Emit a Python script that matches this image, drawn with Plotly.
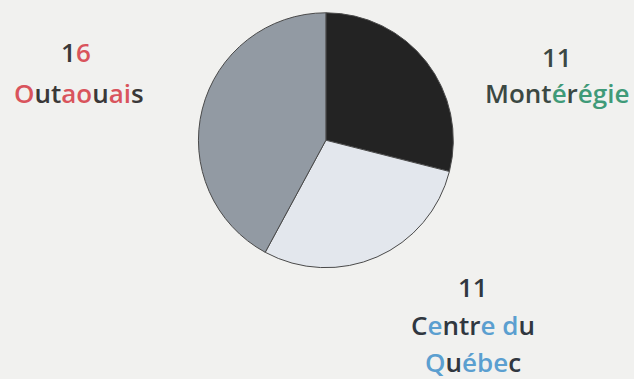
import plotly.graph_objects as go

regions = ["Montérégie", "Centre du Québec", "Outaouais"]
counts = [11, 11, 16]
slice_colors = ["#232323", "#e3e7ed", "#929aa3"]

DARK = "#3a3838"
RED = "#d9545c"
GREEN = "#3f9a78"
GDARK = "#3b4843"
BLUE = "#5b9fd0"
BDARK = "#30373f"

def sp(t, c):
    return f"<span style='color:{c}'>{t}</span>"

fig = go.Figure(go.Pie(
    labels=regions, values=counts, sort=False, direction="clockwise", rotation=0,
    marker=dict(colors=slice_colors, line=dict(color="#4a4a4a", width=1)),
    textinfo="none", hoverinfo="label+value", showlegend=False,
    domain=dict(x=[0.313, 0.715], y=[0.29, 0.97]),
))

FONT = "Open Sans"
FS = 26
n1, n2, n3 = (str(c) for c in counts)
ann = [
    (76, 52, sp(n3[0], DARK) + sp(n3[1], RED)),
    (79, 93, sp("O", RED) + sp("ut", DARK) + sp("ao", RED) + sp("u", DARK) + sp("ai", RED) + sp("s", DARK)),
    (557, 57, sp(n1, GDARK)),
    (557, 93, sp("Mont", GDARK) + sp("é", GREEN) + sp("r", GDARK) + sp("égie", GREEN)),
    (473, 287, sp(n2, BDARK)),
    (473, 325, sp("C", BDARK) + sp("e", BLUE) + sp("ntr", BDARK) + sp("e", BLUE) + " " + sp("d", BLUE) + sp("u", BDARK)),
    (473, 362, sp("Q", BLUE) + sp("u", BDARK) + sp("ébe", BLUE) + sp("c", BDARK)),
]
W, H = 634, 379
annotations = []
for x, y, t in ann:
    annotations.append(dict(x=x / W, y=1 - y / H, xref="paper", yref="paper", text=t,
                            showarrow=False, xanchor="center", yanchor="middle",
                            font=dict(family=FONT, size=FS, color=DARK, weight=600)))

fig.update_layout(
    width=W, height=H, margin=dict(l=0, r=0, t=0, b=0),
    paper_bgcolor="#f1f1ef", plot_bgcolor="#f1f1ef",
    annotations=annotations,
)
fig.write_html("out.html")
